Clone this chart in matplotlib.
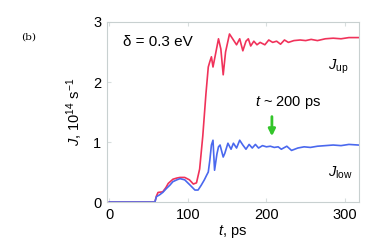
import matplotlib
matplotlib.use('Agg')
from matplotlib import pyplot as plt

plt.rcParams['font.family'] = ['Liberation Sans', 'DejaVu Sans']
plt.rcParams['mathtext.fontset'] = 'custom'
plt.rcParams['mathtext.rm'] = 'Liberation Sans'
plt.rcParams['mathtext.it'] = 'Liberation Sans:italic'

# time axis (ps) and fluxes (10^14 s^-1)
t_up = [0, 58, 60, 62, 68, 72, 75, 81, 86, 90, 96, 102, 107, 111, 115, 119, 123, 126, 128, 130,
        132, 135, 139, 142, 145, 148, 153, 157, 162, 166, 170, 174, 177, 180, 184, 188, 192, 198, 203, 208,
        213, 218, 223, 228, 235, 243, 250, 257, 265, 275, 285, 295, 305, 317]
j_up = [0, 0, 0.10, 0.16, 0.17, 0.24, 0.31, 0.38, 0.40, 0.41, 0.41, 0.37, 0.30, 0.32, 0.55, 1.1, 1.8, 2.25, 2.34, 2.42,
        2.25, 2.45, 2.72, 2.55, 2.12, 2.5, 2.8, 2.72, 2.62, 2.72, 2.52, 2.68, 2.72, 2.6, 2.68, 2.62, 2.66, 2.62, 2.7, 2.66,
        2.68, 2.63, 2.70, 2.66, 2.69, 2.70, 2.69, 2.71, 2.69, 2.72, 2.73, 2.72, 2.74, 2.74]

t_low = [0, 58, 60, 64, 68, 73, 77, 81, 86, 90, 96, 103, 109, 113, 117, 121, 124, 126, 128, 130,
         132, 134, 137, 139, 141, 145, 147, 151, 155, 158, 162, 166, 170, 174, 178, 182, 186, 190, 195, 200,
         205, 210, 215, 219, 226, 232, 240, 248, 256, 265, 275, 285, 295, 305, 317]
j_low = [0, 0, 0.09, 0.12, 0.16, 0.23, 0.28, 0.34, 0.37, 0.39, 0.37, 0.28, 0.20, 0.20, 0.28, 0.37, 0.45, 0.50, 0.7, 0.95,
         1.03, 0.53, 0.8, 0.92, 0.95, 0.75, 0.81, 0.98, 0.88, 0.98, 0.9, 1.03, 0.95, 0.88, 0.96, 0.9, 0.96, 0.9, 0.94, 0.92,
         0.93, 0.91, 0.92, 0.88, 0.93, 0.86, 0.9, 0.92, 0.91, 0.93, 0.94, 0.95, 0.94, 0.96, 0.95]

x_ticks = [0, 100, 200, 300]
y_ticks = [0, 1, 2, 3]

fig = plt.figure(figsize=(3.82, 2.47), dpi=100)
ax = fig.add_axes([0.280, 0.182, 0.660, 0.729])

ax.plot(t_up, j_up, color='#f0325a', lw=1.2)
ax.plot(t_low, j_low, color='#4a68ee', lw=1.2)

ax.set_xlim(-3, 318)
ax.set_ylim(0, 3)
ax.set_xticks(x_ticks)
ax.set_yticks(y_ticks)
ax.tick_params(direction='in', length=3, color='#d8dede', labelsize=10.5, pad=4,
               top=True, right=False)
for s in ax.spines.values():
    s.set_color('#c8d0d0')
    s.set_linewidth(0.8)

ax.set_xlabel('$t$, ps', fontsize=10.5, labelpad=1)
ax.set_ylabel('$J$, 10$^{14}$ s$^{-1}$', fontsize=10.5, labelpad=6)

ax.text(17, 2.6, 'δ = 0.3 eV', fontsize=11)
ax.text(278, 2.2, '$J_{\\rm up}$', fontsize=10.5)
ax.text(278, 0.42, '$J_{\\rm low}$', fontsize=10.5)
ax.text(185, 1.6, '$t$ ~ 200 ps', fontsize=10.5)
ax.annotate('', xy=(207, 1.05), xytext=(207, 1.47),
            arrowprops=dict(arrowstyle='-|>', color='#33c52a', lw=2, mutation_scale=10))

fig.text(0.055, 0.84, '(b)', fontsize=7.5, family='DejaVu Serif')

plt.savefig('out.png', dpi=100)
